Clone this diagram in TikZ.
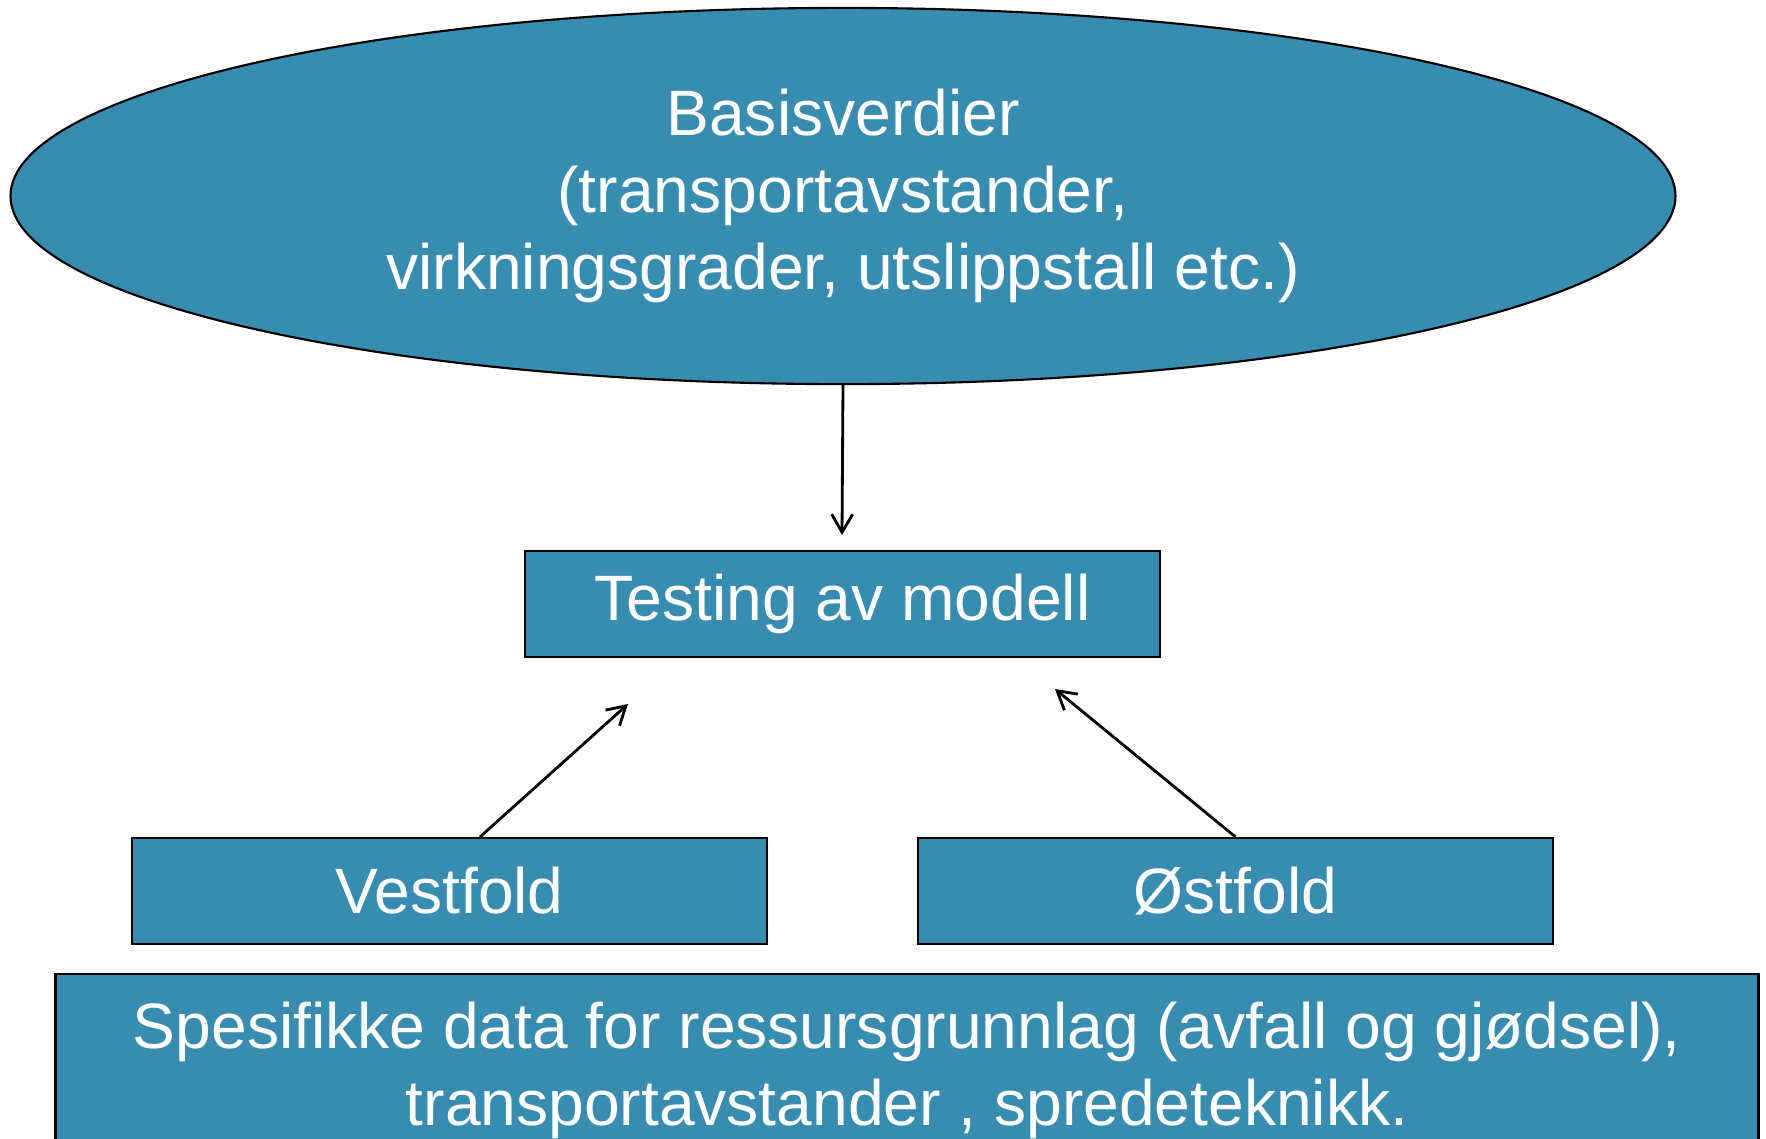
\documentclass[tikz,border=0pt]{standalone}
\usepackage{fontspec}
\setmainfont{Liberation Sans}
\usepackage{tikz}
\usetikzlibrary{shapes, arrows.meta, positioning}
\definecolor{boxblue}{RGB}{55,140,175}

\begin{document}
\begin{tikzpicture}[x=0.01cm, y=-0.01cm,
    boxtext/.style={text=white, font=\fontsize{18.25}{21.9}\selectfont, align=center},
    blue box/.style={boxtext, draw=black, line width=0.6pt, fill=boxblue, inner sep=0pt},
    link/.style={line width=0.8pt, -{Straight Barb[length=0.18cm, width=0.21cm, line width=0.8pt]}}]
  \clip (0,0) rectangle (1766,1138);
  \node[blue box, ellipse, minimum width=16.64cm, minimum height=3.76cm] (basis) at (843,196)
    {Basisverdier\\(transportavstander,\\virkningsgrader, utslippstall etc.)};
  \node[blue box, minimum width=6.35cm, minimum height=1.06cm] (testing) at (842.5,604) {Testing av modell};
  \node[blue box, minimum width=6.35cm, minimum height=1.06cm] (vestfold) at (449.5,891) {Vestfold};
  \node[blue box, minimum width=6.35cm, minimum height=1.06cm] (ostfold) at (1235.5,891) {Østfold};
  \node[blue box, minimum width=17.02cm, minimum height=1.92cm] (data) at (907,1070)
    {Spesifikke data for ressursgrunnlag (avfall og gjødsel),\\transportavstander , spredeteknikk.};

  \coordinate (testtop) at (842,535);
  \coordinate (testleft) at (628,704);
  \coordinate (testright) at (1055,689);
  \draw[link] (basis.south) -- (testtop);
  \draw[link] (vestfold.north -| 480,0) -- (testleft);
  \draw[link] (ostfold.north) -- (testright);
\end{tikzpicture}
\end{document}
